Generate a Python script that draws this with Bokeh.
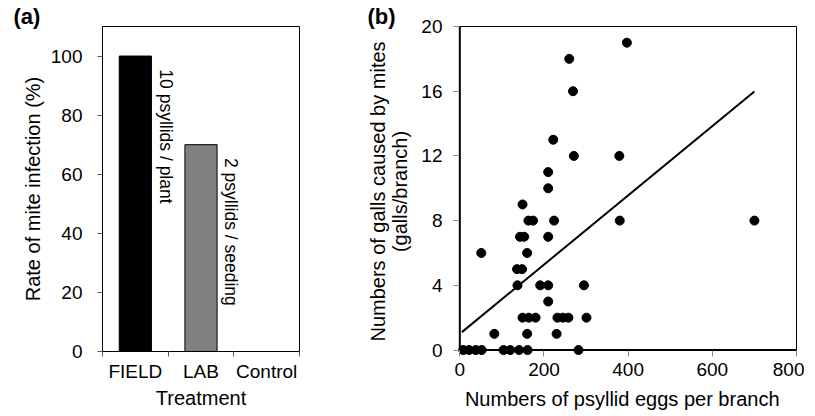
import numpy as np
from bokeh.plotting import figure
from bokeh.models import Range1d, LinearAxis, FixedTicker, ColumnDataSource
from bokeh.layouts import row
from bokeh.core.properties import value
from bokeh.embed import file_html
from bokeh.resources import INLINE

FONT = "Liberation Sans"

# ---------------- data: panel (a) ----------------
treatments = ["FIELD", "LAB", "Control"]
infection_rate = [100, 70, 0]
bar_colors = ["#000000", "#808080", "#ffffff"]
bar_notes = ["10 psyllids / plant", "2 psyllids / seeding", ""]
rate_ticks = [0, 20, 40, 60, 80, 100]

# ---------------- data: panel (b) ----------------
psyllid_eggs = [8, 22, 38, 52, 104, 120, 141, 161, 282,
                82, 160, 230,
                149, 164, 180, 232, 245, 258, 301,
                210,
                137, 191, 210, 295,
                136, 148,
                51, 160,
                143, 153, 210,
                163, 174, 224, 380, 700,
                149,
                210,
                210,
                271, 379,
                222,
                269,
                260,
                397]
mite_galls = [0, 0, 0, 0, 0, 0, 0, 0, 0,
              1, 1, 1,
              2, 2, 2, 2, 2, 2, 2,
              3,
              4, 4, 4, 4,
              5, 5,
              6, 6,
              7, 7, 7,
              8, 8, 8, 8, 8,
              9,
              10,
              11,
              12, 12,
              13,
              16,
              18,
              19]
fit_intercept = 1.0
fit_slope = 0.0214
fit_x = [5, 700]
egg_ticks = [0, 200, 400, 600, 800]
gall_ticks = [0, 4, 8, 12, 16, 20]

TICK_PX = "19px"
LABEL_PX = "20px"


def style_axis(ax):
    ax.major_label_text_font = FONT
    ax.major_label_text_font_size = TICK_PX
    ax.major_label_text_color = "black"
    ax.axis_label_text_font = FONT
    ax.axis_label_text_font_size = LABEL_PX
    ax.axis_label_text_font_style = "normal"
    ax.axis_label_text_color = "black"


def style_title(p, text, offset):
    p.title.text = text
    p.title.align = "left"
    p.title.offset = offset
    p.title.standoff = -4
    p.title.text_font = FONT
    p.title.text_font_size = "22px"
    p.title.text_font_style = "bold"
    p.title.text_color = "black"


# ---------------- panel (a) ----------------
pa = figure(frame_width=197, frame_height=325,
            x_range=Range1d(0, len(treatments)), y_range=Range1d(0, 110),
            output_backend="svg", toolbar_location=None,
            min_border_left=102, min_border_right=49, min_border_top=26, min_border_bottom=10)
pa.grid.visible = False
pa.outline_line_color = "black"
pa.outline_line_width = 1
style_title(pa, "(a)", -89)

centers = [i + 0.5 for i in range(len(treatments))]
bounds_a = list(range(len(treatments) + 1))
src_a = ColumnDataSource(dict(x=centers, top=infection_rate, color=bar_colors))
pa.vbar(x="x", top="top", width=0.49, bottom=0, fill_color="color",
        line_color="black", line_width=1, source=src_a)

note_src = ColumnDataSource(dict(
    x=[c + 0.46 for c in centers[:2]],
    y=[v - 4.5 for v in infection_rate[:2]],
    t=bar_notes[:2]))
pa.text(x="x", y="y", text="t", angle=-np.pi / 2, text_align="left",
        text_baseline="middle", text_font=value(FONT), text_font_size="17.5px",
        text_color="black", source=note_src)

xa = pa.xaxis[0]
xa.ticker = FixedTicker(ticks=centers, minor_ticks=bounds_a)
xa.major_label_overrides = {c: t for c, t in zip(centers, treatments)}
xa.major_tick_line_color = None
xa.major_tick_out = 5
xa.major_tick_in = 0
xa.minor_tick_line_color = "#555555"
xa.minor_tick_out = 5
xa.minor_tick_in = 0
xa.major_label_standoff = 4
xa.axis_label = "Treatment"
xa.axis_label_standoff = 2

ya = pa.yaxis[0]
ya.ticker = FixedTicker(ticks=rate_ticks)
ya.minor_tick_line_color = None
ya.major_tick_out = 5
ya.major_tick_in = 0
ya.major_tick_line_color = "#555555"
ya.major_label_standoff = 15
ya.axis_label = "Rate of mite infection (%)"
ya.axis_label_standoff = 4

for ax in (xa, ya):
    ax.axis_line_color = "black"
    ax.axis_line_width = 1
    style_axis(ax)

# ---------------- panel (b) ----------------
pb = figure(frame_width=343, frame_height=330,
            x_range=Range1d(-15, 800), y_range=Range1d(-0.4, 20),
            x_axis_type=None, y_axis_type=None,
            output_backend="svg", toolbar_location=None,
            min_border_left=105, min_border_right=8, min_border_top=26, min_border_bottom=10)
pb.grid.visible = False
pb.outline_line_color = None
style_title(pb, "(b)", -86)

# axis lines at the data origin
pb.line(x=[egg_ticks[0], egg_ticks[-1]], y=[gall_ticks[0], gall_ticks[0]],
        line_color="black", line_width=2)
pb.line(x=[egg_ticks[0], egg_ticks[0]], y=[gall_ticks[0], gall_ticks[-1]],
        line_color="black", line_width=2)

fit_y = [fit_intercept + fit_slope * x for x in fit_x]
pb.line(x=fit_x, y=fit_y, line_color="black", line_width=2)
pb.scatter(x=psyllid_eggs, y=mite_galls, size=9, marker="circle",
           fill_color="black", line_color="black")

left_b = LinearAxis(ticker=FixedTicker(ticks=gall_ticks),
                    axis_label="Numbers of galls caused by mites\n(galls/branch)")
left_b.major_label_standoff = 11
left_b.axis_label_standoff = 7
left_b.axis_label_text_line_height = 1.0
below_b = LinearAxis(ticker=FixedTicker(ticks=egg_ticks),
                     axis_label="Numbers of psyllid eggs  per branch")
below_b.major_label_standoff = 6
below_b.axis_label_standoff = 9
for ax in (left_b, below_b):
    ax.axis_line_color = None
    ax.major_tick_in = 6
    ax.major_tick_out = 0
    ax.major_tick_line_color = "#888888"
    ax.minor_tick_line_color = None
    style_axis(ax)
pb.add_layout(left_b, "left")
pb.add_layout(below_b, "below")

right_b = LinearAxis(ticker=FixedTicker(ticks=[]), bounds=(0, 20))
above_b = LinearAxis(ticker=FixedTicker(ticks=[]), bounds=(0, 800))
for ax in (right_b, above_b):
    ax.axis_line_color = "black"
    ax.axis_line_width = 1
    ax.major_tick_out = 0
    ax.major_tick_in = 0
    ax.major_label_standoff = 0
    ax.minor_tick_line_color = None
    ax.major_tick_line_color = None
pb.add_layout(right_b, "right")
pb.add_layout(above_b, "above")

layout = row(pa, pb)
open("out.html", "w").write(file_html(layout, INLINE))
